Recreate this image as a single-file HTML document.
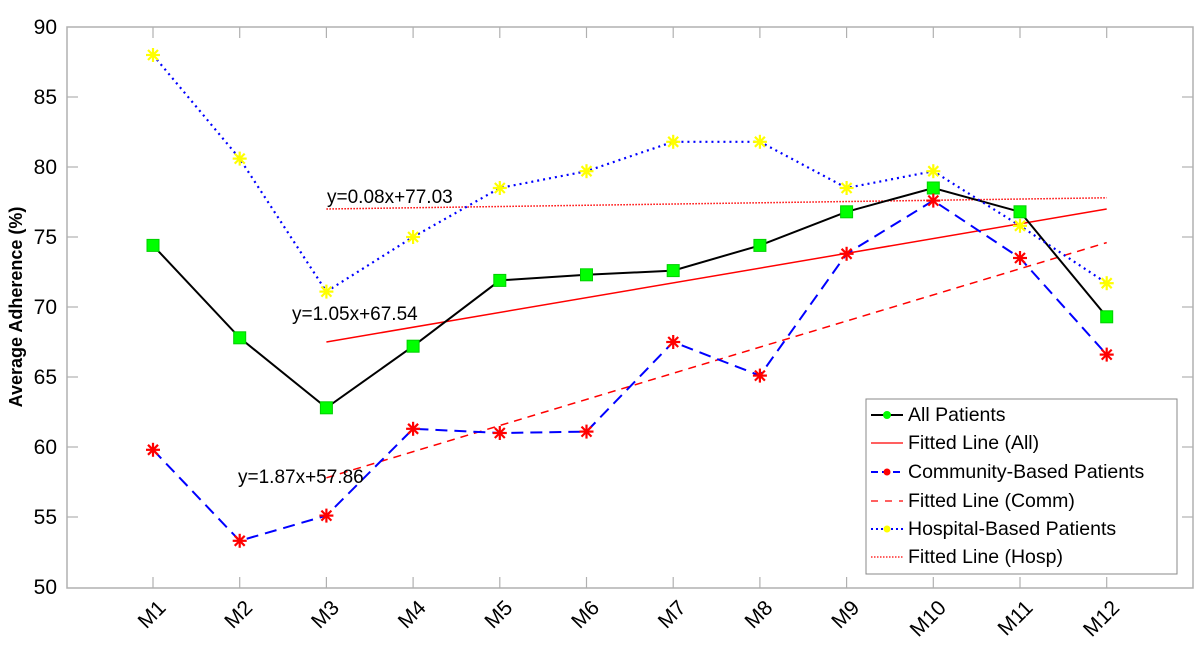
<!DOCTYPE html>
<html><head><meta charset="utf-8"><style>
html,body{margin:0;padding:0;background:#fff;}
text{font-family:"Liberation Sans",Arial,sans-serif;}
</style></head><body>
<svg width="1200" height="665" xmlns="http://www.w3.org/2000/svg" xmlns:xlink="http://www.w3.org/1999/xlink">
<defs>
<rect id="sq" x="-6" y="-6" width="12" height="12" fill="#00ff00" stroke="#00d000" stroke-width="1"/>
<g id="stR" stroke="#ff0000" stroke-width="2.2"><line x1="-7" y1="0" x2="7" y2="0"/><line x1="0" y1="-7" x2="0" y2="7"/><line x1="-5" y1="-5" x2="5" y2="5"/><line x1="-5" y1="5" x2="5" y2="-5"/></g>
<g id="stY" stroke="#ffff00" stroke-width="2.2"><line x1="-7" y1="0" x2="7" y2="0"/><line x1="0" y1="-7" x2="0" y2="7"/><line x1="-5" y1="-5" x2="5" y2="5"/><line x1="-5" y1="5" x2="5" y2="-5"/></g>
</defs>
<rect x="67" y="27" width="1126" height="561" fill="#fff" stroke="#b0b0b0" stroke-width="1.5"/>
<g stroke="#b0b0b0" stroke-width="1.2">
<line x1="67" y1="97" x2="78" y2="97"/><line x1="67" y1="167" x2="78" y2="167"/><line x1="67" y1="237" x2="78" y2="237"/><line x1="67" y1="307" x2="78" y2="307"/><line x1="67" y1="377" x2="78" y2="377"/><line x1="67" y1="447" x2="78" y2="447"/><line x1="67" y1="517" x2="78" y2="517"/>
<line x1="1193" y1="97" x2="1182" y2="97"/><line x1="1193" y1="167" x2="1182" y2="167"/><line x1="1193" y1="237" x2="1182" y2="237"/><line x1="1193" y1="307" x2="1182" y2="307"/><line x1="1193" y1="377" x2="1182" y2="377"/><line x1="1193" y1="447" x2="1182" y2="447"/><line x1="1193" y1="517" x2="1182" y2="517"/>
<line x1="153" y1="588" x2="153" y2="577"/><line x1="239.7" y1="588" x2="239.7" y2="577"/><line x1="326.4" y1="588" x2="326.4" y2="577"/><line x1="413.1" y1="588" x2="413.1" y2="577"/><line x1="499.8" y1="588" x2="499.8" y2="577"/><line x1="586.5" y1="588" x2="586.5" y2="577"/><line x1="673.2" y1="588" x2="673.2" y2="577"/><line x1="759.9" y1="588" x2="759.9" y2="577"/><line x1="846.6" y1="588" x2="846.6" y2="577"/><line x1="933.3" y1="588" x2="933.3" y2="577"/><line x1="1020" y1="588" x2="1020" y2="577"/><line x1="1106.7" y1="588" x2="1106.7" y2="577"/>
<line x1="153" y1="27" x2="153" y2="38"/><line x1="239.7" y1="27" x2="239.7" y2="38"/><line x1="326.4" y1="27" x2="326.4" y2="38"/><line x1="413.1" y1="27" x2="413.1" y2="38"/><line x1="499.8" y1="27" x2="499.8" y2="38"/><line x1="586.5" y1="27" x2="586.5" y2="38"/><line x1="673.2" y1="27" x2="673.2" y2="38"/><line x1="759.9" y1="27" x2="759.9" y2="38"/><line x1="846.6" y1="27" x2="846.6" y2="38"/><line x1="933.3" y1="27" x2="933.3" y2="38"/><line x1="1020" y1="27" x2="1020" y2="38"/><line x1="1106.7" y1="27" x2="1106.7" y2="38"/>
</g>
<g font-size="21" text-anchor="end" fill="#000">
<text x="57" y="34">90</text><text x="57" y="104">85</text><text x="57" y="174">80</text><text x="57" y="244">75</text><text x="57" y="314">70</text><text x="57" y="384">65</text><text x="57" y="454">60</text><text x="57" y="524">55</text><text x="57" y="594">50</text>
</g>
<text transform="translate(22,307) rotate(-90)" font-size="18" font-weight="bold" text-anchor="middle">Average Adherence (%)</text>
<g font-size="21" text-anchor="end">
<text transform="translate(167,609) rotate(-45)">M1</text>
<text transform="translate(253.7,609) rotate(-45)">M2</text>
<text transform="translate(340.4,609) rotate(-45)">M3</text>
<text transform="translate(427.1,609) rotate(-45)">M4</text>
<text transform="translate(513.8,609) rotate(-45)">M5</text>
<text transform="translate(600.5,609) rotate(-45)">M6</text>
<text transform="translate(687.2,609) rotate(-45)">M7</text>
<text transform="translate(773.9,609) rotate(-45)">M8</text>
<text transform="translate(860.6,609) rotate(-45)">M9</text>
<text transform="translate(947.3,609) rotate(-45)">M10</text>
<text transform="translate(1034,609) rotate(-45)">M11</text>
<text transform="translate(1120.7,609) rotate(-45)">M12</text>
</g>
<line x1="326.4" y1="342" x2="1106.7" y2="209" stroke="#f00" stroke-width="1.5"/>
<line x1="326.4" y1="477.8" x2="1106.7" y2="242.6" stroke="#f00" stroke-width="1.5" stroke-dasharray="8,6"/>
<line x1="326.4" y1="209" x2="1106.7" y2="197.8" stroke="#f00" stroke-width="1.5" stroke-dasharray="1.5,1.5"/>
<polyline points="153,245.4 239.7,337.8 326.4,407.8 413.1,346.2 499.8,280.4 586.5,274.8 673.2,270.6 759.9,245.4 846.6,211.8 933.3,188 1020,211.8 1106.7,316.8" fill="none" stroke="#000" stroke-width="2"/>
<polyline points="153,449.8 239.7,540.8 326.4,515.6 413.1,428.8 499.8,433 586.5,431.6 673.2,342 759.9,375.6 846.6,253.8 933.3,200.6 1020,258 1106.7,354.6" fill="none" stroke="#00f" stroke-width="2" stroke-dasharray="12,7"/>
<polyline points="153,55 239.7,158.6 326.4,291.6 413.1,237 499.8,188 586.5,171.2 673.2,141.8 759.9,141.8 846.6,188 933.3,171.2 1020,225.8 1106.7,283.2" fill="none" stroke="#00f" stroke-width="2.2" stroke-dasharray="2,4"/>
<use href="#sq" xlink:href="#sq" x="153" y="245.4"/><use href="#sq" xlink:href="#sq" x="239.7" y="337.8"/><use href="#sq" xlink:href="#sq" x="326.4" y="407.8"/><use href="#sq" xlink:href="#sq" x="413.1" y="346.2"/><use href="#sq" xlink:href="#sq" x="499.8" y="280.4"/><use href="#sq" xlink:href="#sq" x="586.5" y="274.8"/><use href="#sq" xlink:href="#sq" x="673.2" y="270.6"/><use href="#sq" xlink:href="#sq" x="759.9" y="245.4"/><use href="#sq" xlink:href="#sq" x="846.6" y="211.8"/><use href="#sq" xlink:href="#sq" x="933.3" y="188"/><use href="#sq" xlink:href="#sq" x="1020" y="211.8"/><use href="#sq" xlink:href="#sq" x="1106.7" y="316.8"/>
<use href="#stR" xlink:href="#stR" x="153" y="449.8"/><use href="#stR" xlink:href="#stR" x="239.7" y="540.8"/><use href="#stR" xlink:href="#stR" x="326.4" y="515.6"/><use href="#stR" xlink:href="#stR" x="413.1" y="428.8"/><use href="#stR" xlink:href="#stR" x="499.8" y="433"/><use href="#stR" xlink:href="#stR" x="586.5" y="431.6"/><use href="#stR" xlink:href="#stR" x="673.2" y="342"/><use href="#stR" xlink:href="#stR" x="759.9" y="375.6"/><use href="#stR" xlink:href="#stR" x="846.6" y="253.8"/><use href="#stR" xlink:href="#stR" x="933.3" y="200.6"/><use href="#stR" xlink:href="#stR" x="1020" y="258"/><use href="#stR" xlink:href="#stR" x="1106.7" y="354.6"/>
<use href="#stY" xlink:href="#stY" x="153" y="55"/><use href="#stY" xlink:href="#stY" x="239.7" y="158.6"/><use href="#stY" xlink:href="#stY" x="326.4" y="291.6"/><use href="#stY" xlink:href="#stY" x="413.1" y="237"/><use href="#stY" xlink:href="#stY" x="499.8" y="188"/><use href="#stY" xlink:href="#stY" x="586.5" y="171.2"/><use href="#stY" xlink:href="#stY" x="673.2" y="141.8"/><use href="#stY" xlink:href="#stY" x="759.9" y="141.8"/><use href="#stY" xlink:href="#stY" x="846.6" y="188"/><use href="#stY" xlink:href="#stY" x="933.3" y="171.2"/><use href="#stY" xlink:href="#stY" x="1020" y="225.8"/><use href="#stY" xlink:href="#stY" x="1106.7" y="283.2"/>
<g font-size="19" fill="#000">
<text x="327" y="203">y=0.08x+77.03</text>
<text x="292" y="320">y=1.05x+67.54</text>
<text x="238" y="483">y=1.87x+57.86</text>
</g>
<rect x="866" y="399" width="311" height="175" fill="#fff" stroke="#888" stroke-width="1"/>
<g font-size="19.5">
<line x1="871" y1="415" x2="903" y2="415" stroke="#000" stroke-width="2"/><circle cx="887" cy="415" r="4" fill="#00ff00"/>
<text x="908" y="421">All Patients</text>
<line x1="871" y1="443" x2="903" y2="443" stroke="#f00" stroke-width="1.3"/>
<text x="908" y="449">Fitted Line (All)</text>
<line x1="871" y1="472" x2="903" y2="472" stroke="#00f" stroke-width="2" stroke-dasharray="7,4"/><circle cx="887" cy="472" r="3.5" fill="#f00"/>
<text x="908" y="478">Community-Based Patients</text>
<line x1="871" y1="501" x2="903" y2="501" stroke="#f00" stroke-width="1.3" stroke-dasharray="7,7"/>
<text x="908" y="507">Fitted Line (Comm)</text>
<line x1="871" y1="529" x2="903" y2="529" stroke="#00f" stroke-width="2" stroke-dasharray="2,3"/><circle cx="887" cy="529" r="3.5" fill="#ff0"/>
<text x="908" y="535">Hospital-Based Patients</text>
<line x1="871" y1="557" x2="903" y2="557" stroke="#f00" stroke-width="1.3" stroke-dasharray="1.5,1.5"/>
<text x="908" y="563">Fitted Line (Hosp)</text>
</g>
</svg>
</body></html>
